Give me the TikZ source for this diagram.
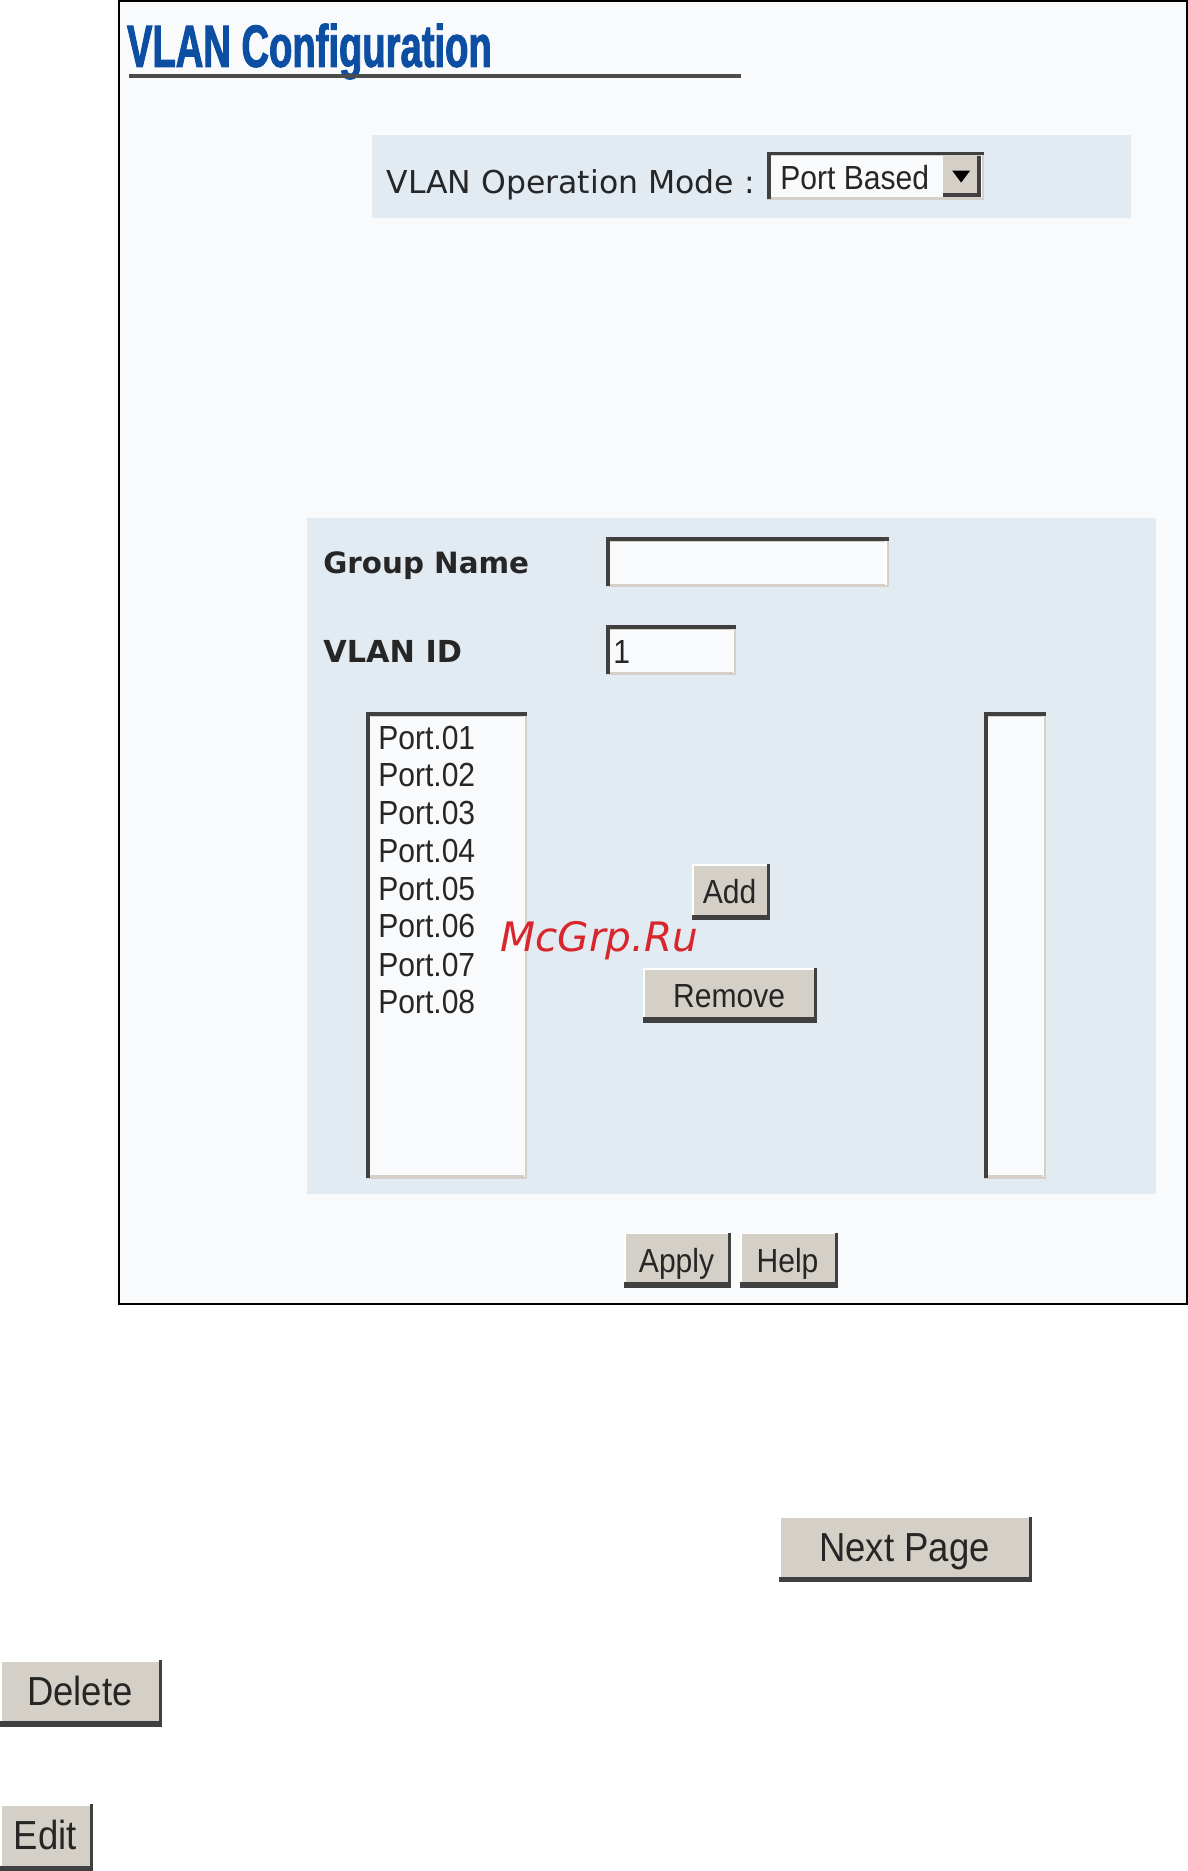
\documentclass[tikz,border=0pt]{standalone}
\usepackage{fontspec}
\setmainfont{Liberation Sans}
\newfontfamily\uifont[FakeStretch=0.9]{Liberation Sans}
\newfontfamily\titlefont[FakeStretch=0.64,FakeBold=1.5]{Liberation Sans Bold}
\newfontfamily\wideui{DejaVu Sans}
\newfontfamily\wideuibold{DejaVu Sans Bold}
\newfontfamily\markfont{DejaVu Sans Oblique}
\definecolor{pagebg}{HTML}{F8FAFC}
\definecolor{panelbg}{HTML}{E2EAF2}
\definecolor{btnface}{HTML}{D4D0C8}
\definecolor{btndark}{HTML}{404040}
\definecolor{titleblue}{HTML}{0B4EA2}
\definecolor{markred}{HTML}{D8262C}
\tikzset{
  uitext/.style={inner sep=0pt,outer sep=0pt,anchor=base west,text=black!85},
  btntext/.style={inner sep=0pt,outer sep=0pt,anchor=base,text=black!85},
  smalltext/.style={font=\uifont\fontsize{14}{16}\selectfont},
  bigtext/.style={font=\uifont\fontsize{17}{19}\selectfont},
  boldlabel/.style={font=\wideuibold\fontsize{12.3}{14}\selectfont},
  boldlabelb/.style={font=\wideuibold\fontsize{12.7}{14}\selectfont}
}
% #1 name, #2 x0, #3 y0, #4 x1, #5 y1, #6 text style, #7 text
\newcommand{\uibutton}[7]{%
  \fill[btnface] (#2,#3) rectangle (#4,#5);
  \fill[white] (#2,#3) rectangle (#4,#3+1.5);
  \fill[white] (#2,#3) rectangle (#2+1.5,#5);
  \fill[btndark] (#4-2.5,#3) rectangle (#4,#5);
  \fill[btndark] (#2,#5-4.5) rectangle (#4,#5);
  \node[btntext,#6] (#1) at ({(#2+#4)/2-1},{(#3+#5)/2+10}) {#7};
}
% #1 x0, #2 y0, #3 x1, #4 y1
\newcommand{\uifield}[4]{%
  \fill[btnface] (#1,#2) rectangle (#3,#4);
  \fill[white] (#3-3,#2+3) rectangle (#3-2,#4-2);
  \fill[pagebg] (#1+3,#2+4) rectangle (#3-3,#4-3);
  \fill[btndark] (#1,#2) rectangle (#3,#2+3);
  \fill[btndark] (#1,#2) rectangle (#1+3,#4-1);
}
\begin{document}
\begin{tikzpicture}[x=0.5pt,y=-0.5pt]
\useasboundingbox (0,0) rectangle (995,1568);
\fill[white] (0,0) rectangle (995,1568);
% main window
\draw[black,line width=0.75pt,fill=pagebg] (100,0.8) rectangle (995,1093);
% title
\node[inner sep=0pt,anchor=base west,text=titleblue,font=\titlefont\fontsize{25}{27}\selectfont] (title) at (106,56) {VLAN Configuration};
\fill[black!70] (108,62) rectangle (621,65);
% mode panel
\fill[panelbg] (312,113) rectangle (948,183);
\node[uitext,font=\wideui\fontsize{13.2}{15}\selectfont] (modelabel) at (324,162) {VLAN Operation Mode :};
\uifield{643}{127}{825}{168}
\node[uitext,smalltext] (modevalue) at (654,159) {Port Based};
\fill[btnface] (790,131) rectangle (822,165);
\fill[btndark] (819,131) rectangle (822,165);
\fill[btndark] (790,162) rectangle (822,165);
\fill[black] (798,143) -- (813,143) -- (805.5,153) -- cycle;
% group panel
\fill[panelbg] (257,434) rectangle (969,1001);
\node[uitext,boldlabel] (grouplabel) at (271,481) {Group Name};
\node[uitext,boldlabelb] (vlanlabel) at (271,555) {VLAN ID};
\uifield{508}{450}{745}{492}
\uifield{508}{524}{617}{566}
\node[uitext,smalltext] (vlanvalue) at (514,556) {1};
% port lists
\uifield{307}{597}{442}{988}
\uifield{825}{597}{877}{988}
\node[uitext,smalltext] (p1) at (317,628) {Port.01};
\node[uitext,smalltext] (p2) at (317,659.5) {Port.02};
\node[uitext,smalltext] (p3) at (317,691) {Port.03};
\node[uitext,smalltext] (p4) at (317,723) {Port.04};
\node[uitext,smalltext] (p5) at (317,754.5) {Port.05};
\node[uitext,smalltext] (p6) at (317,786) {Port.06};
\node[uitext,smalltext] (p7) at (317,818) {Port.07};
\node[uitext,smalltext] (p8) at (317,849.5) {Port.08};
% buttons
\uibutton{add}{580}{724}{645}{771}{smalltext}{Add}
\uibutton{remove}{539}{811}{685}{857}{smalltext}{Remove}
\uibutton{apply}{523}{1033}{613}{1079}{smalltext}{Apply}
\uibutton{help}{620}{1033}{702}{1079}{smalltext}{Help}
\uibutton{next}{653}{1271}{865}{1326}{bigtext}{Next Page}
\uibutton{delete}{0}{1391}{136}{1447}{bigtext}{Delete}
\uibutton{edit}{0}{1512}{78}{1568}{bigtext}{Edit}
% watermark
\node[inner sep=0pt,anchor=base west,text=markred,font=\markfont\fontsize{17}{19}\selectfont] (mark) at (419,797) {McGrp.Ru};
\end{tikzpicture}
\end{document}
